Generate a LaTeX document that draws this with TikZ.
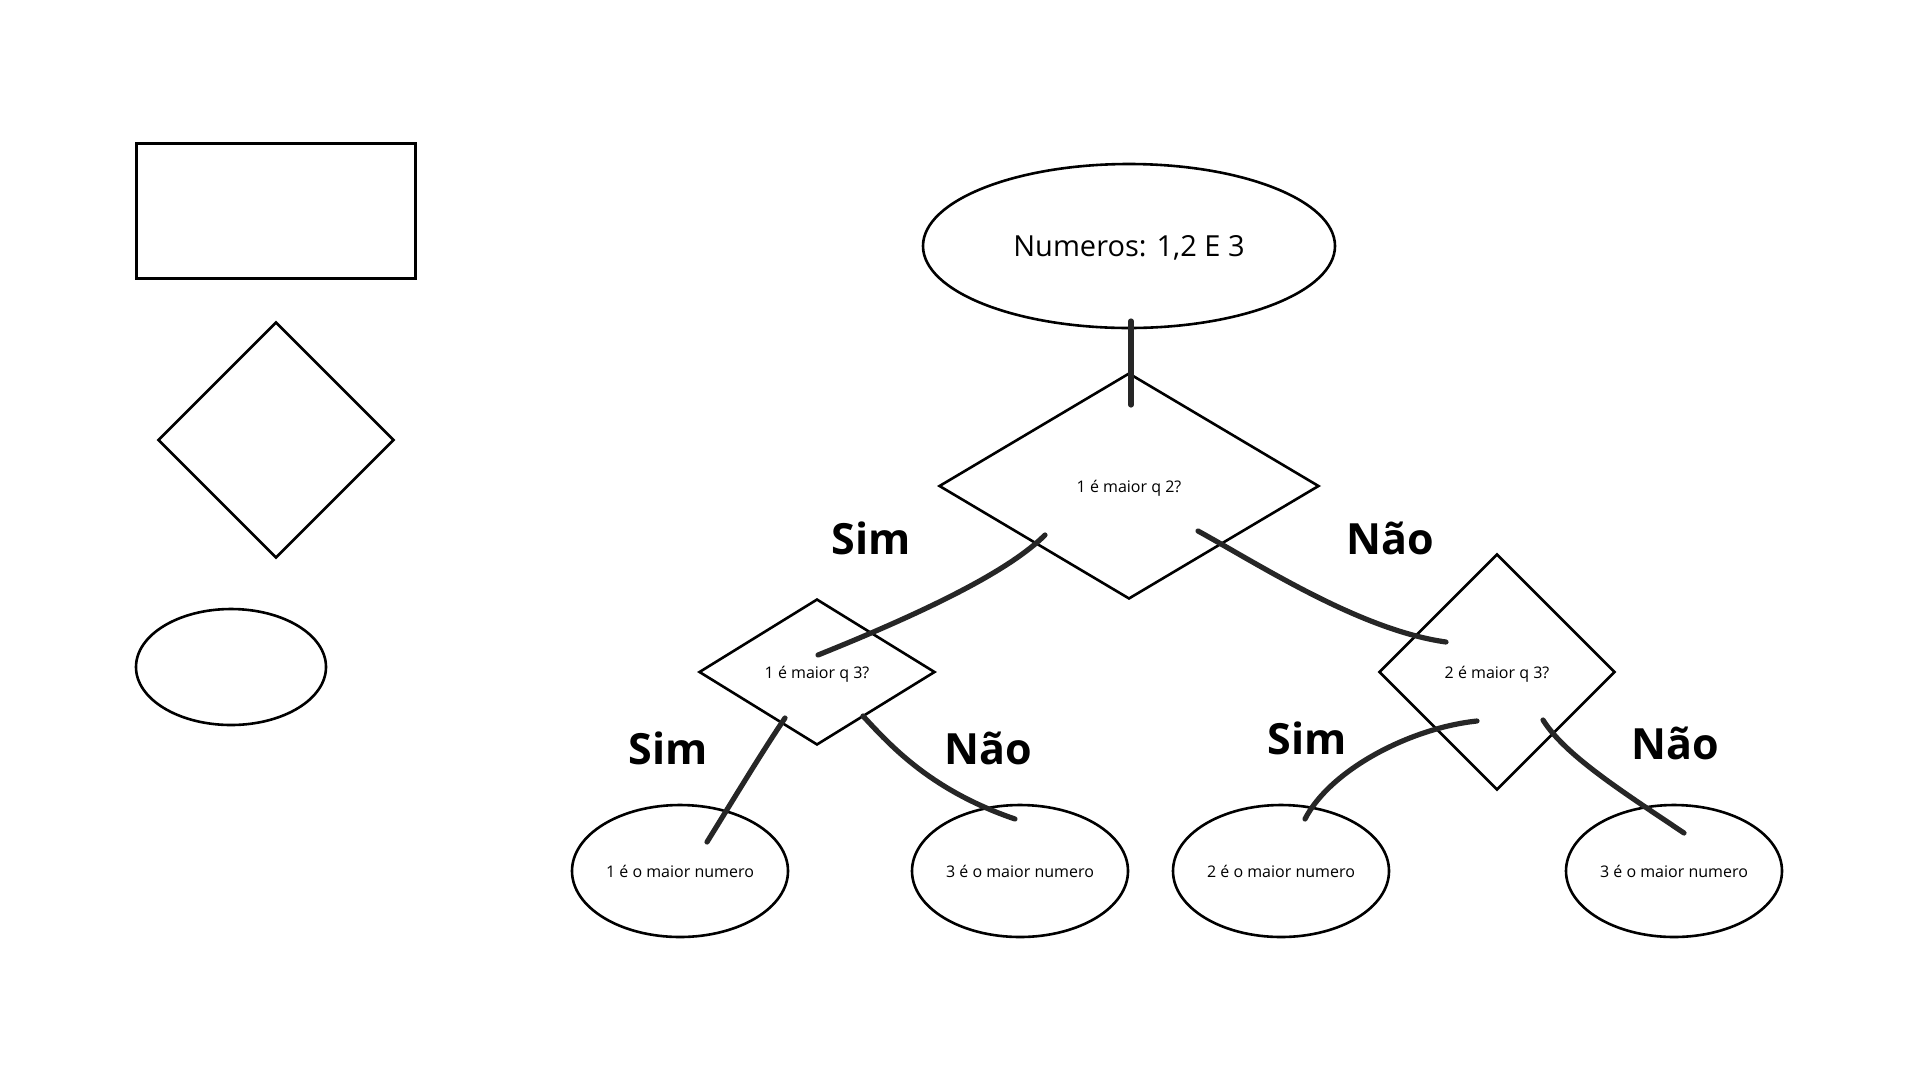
\documentclass[tikz,border=0pt]{standalone}
\usepackage{fontspec}
\setmainfont{Open Sans}
\usetikzlibrary{shapes.geometric,calc}

\tikzset{
  forma/.style={draw=black, line width=2.6pt, inner sep=0pt},
  caixa/.style 2 args={forma, rectangle, minimum width=#1, minimum height=#2},
  decisao/.style 2 args={forma, diamond, minimum width=#1, minimum height=#2,
    text depth=0pt, font=\fontsize{16}{19}\selectfont},
  oval/.style 2 args={forma, ellipse, minimum width=#1, minimum height=#2,
    font=\fontsize{16}{19}\selectfont},
  resposta/.style={font=\bfseries\fontsize{43}{50}\selectfont},
  traco/.style={draw=black!85, line width=5.2pt, line cap=round},
}

\begin{document}
\begin{tikzpicture}[x=1pt, y=-1pt]
  \useasboundingbox (0,0) rectangle (1920,1080);

  \node[caixa={279pt}{135pt}] (leg1) at (276,211) {};
  \node[decisao={236pt}{236pt}] (leg2) at (276,440) {};
  \node[oval={190pt}{116pt}] (leg3) at (231,667) {};

  \node[oval={412pt}{164pt}, text depth=0pt, font=\fontsize{29}{34}\selectfont] (n0) at (1129,246) {Numeros: 1,2 E 3};
  \node[decisao={380pt}{226pt}] (d1) at (1129,486) {1 é maior q 2?};
  \node[decisao={236pt}{146pt}] (d2) at (817,672) {1 é maior q 3?};
  \node[decisao={236pt}{236pt}] (d3) at (1497,672) {2 é maior q 3?};
  \node[oval={216pt}{132pt}] (e1) at (680,871) {1 é o maior numero};
  \node[oval={216pt}{132pt}] (e2) at (1020,871) {3 é o maior numero};
  \node[oval={216pt}{132pt}] (e3) at (1281,871) {2 é o maior numero};
  \node[oval={216pt}{132pt}] (e4) at (1674,871) {3 é o maior numero};

  \node[resposta] (sim1) at (871,538) {Sim};
  \node[resposta] (nao1) at (1390,538) {Não};
  \node[resposta] (sim2) at (668,748) {Sim};
  \node[resposta] (nao2) at (988,748) {Não};
  \node[resposta] (sim3) at (1307,738) {Sim};
  \node[resposta] (nao3) at (1675,743) {Não};

  \draw[traco] ($(n0)+(2,75)$) -- ($(d1)+(2,-81)$);
  \draw[traco] ($(d1)+(-84,49)$) .. controls +(-35,35) and +(112,-45) .. ($(d2)+(1,-17)$);
  \draw[traco] ($(d1)+(69,45)$) .. controls +(62,34) and +(-86,-12) .. ($(d3)+(-51,-30)$);
  \draw[traco] ($(d2)+(-32,46)$) .. controls +(-25,37) and +(23,-37) .. ($(e1)+(27,-29)$);
  \draw[traco] ($(d2)+(46,44)$) .. controls +(27,29) and +(-85,-29) .. ($(e2)+(-5,-52)$);
  \draw[traco] ($(d3)+(-20,49)$) .. controls +(-67,7) and +(25,-49) .. ($(e3)+(24,-52)$);
  \draw[traco] ($(d3)+(46,48)$) .. controls +(22,35) and +(-64,-43) .. ($(e4)+(10,-38)$);
\end{tikzpicture}
\end{document}
